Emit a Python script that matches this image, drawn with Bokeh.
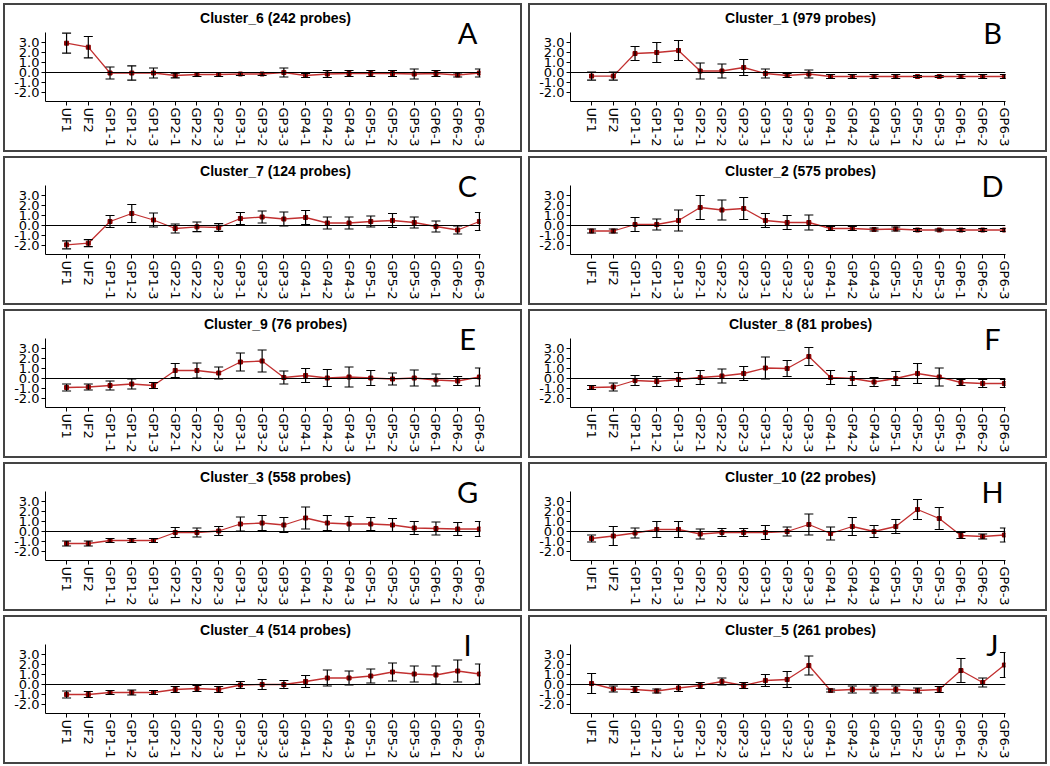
import math
from bokeh.plotting import figure
from bokeh.models import (Span, Label, Whisker, TeeHead, ColumnDataSource,
                          FixedTicker, NumeralTickFormatter)
from bokeh.layouts import gridplot
from bokeh.embed import file_html
from bokeh.resources import INLINE

categories = ["UF1", "UF2", "GP1-1", "GP1-2", "GP1-3", "GP2-1", "GP2-2", "GP2-3",
              "GP3-1", "GP3-2", "GP3-3", "GP4-1", "GP4-2", "GP4-3", "GP5-1", "GP5-2",
              "GP5-3", "GP6-1", "GP6-2", "GP6-3"]
y_ticks = [-2.0, -1.0, 0.0, 1.0, 2.0, 3.0]

c6_mean = [2.93, 2.53, -0.05, -0.05, -0.05, -0.3, -0.2, -0.2, -0.15, -0.15, 0.0, -0.3, -0.15, -0.1, -0.1, -0.1, -0.15, -0.1, -0.25, -0.05]
c6_err = [1.0, 1.07, 0.6, 0.72, 0.5, 0.23, 0.2, 0.2, 0.15, 0.15, 0.45, 0.2, 0.35, 0.3, 0.3, 0.3, 0.5, 0.3, 0.2, 0.4]

c1_mean = [-0.36, -0.36, 1.9, 2.0, 2.2, 0.15, 0.15, 0.5, -0.1, -0.3, -0.15, -0.4, -0.4, -0.4, -0.4, -0.4, -0.4, -0.4, -0.4, -0.4]
c1_err = [0.4, 0.4, 0.7, 1.0, 1.0, 0.8, 0.7, 0.8, 0.45, 0.2, 0.4, 0.2, 0.2, 0.2, 0.2, 0.1, 0.1, 0.2, 0.2, 0.2]

c7_mean = [-1.93, -1.77, 0.4, 1.2, 0.55, -0.3, -0.13, -0.2, 0.7, 0.85, 0.65, 0.8, 0.25, 0.25, 0.4, 0.5, 0.3, -0.1, -0.45, 0.4]
c7_err = [0.4, 0.35, 0.6, 0.9, 0.7, 0.45, 0.48, 0.38, 0.6, 0.6, 0.7, 0.7, 0.6, 0.6, 0.55, 0.7, 0.55, 0.55, 0.4, 0.9]

c2_mean = [-0.55, -0.55, 0.1, 0.1, 0.5, 1.8, 1.55, 1.7, 0.5, 0.3, 0.3, -0.3, -0.3, -0.4, -0.35, -0.45, -0.45, -0.45, -0.45, -0.45]
c2_err = [0.2, 0.2, 0.7, 0.55, 1.05, 1.2, 1.0, 1.1, 0.7, 0.7, 0.75, 0.2, 0.2, 0.15, 0.2, 0.15, 0.1, 0.15, 0.15, 0.15]

c9_mean = [-0.9, -0.85, -0.7, -0.55, -0.7, 0.8, 0.8, 0.55, 1.65, 1.75, 0.1, 0.3, 0.05, 0.15, 0.05, -0.05, 0.05, -0.15, -0.25, 0.15]
c9_err = [0.35, 0.3, 0.45, 0.5, 0.3, 0.7, 0.75, 0.6, 0.9, 1.1, 0.65, 0.7, 0.85, 1.0, 0.75, 0.6, 0.8, 0.6, 0.45, 0.9]

c8_mean = [-0.9, -0.85, -0.2, -0.3, -0.1, 0.1, 0.25, 0.5, 1.05, 1.0, 2.2, 0.1, 0.0, -0.35, 0.0, 0.5, 0.15, -0.4, -0.5, -0.5]
c8_err = [0.2, 0.4, 0.5, 0.5, 0.7, 0.7, 0.7, 0.7, 1.1, 0.8, 0.9, 0.7, 0.7, 0.45, 0.7, 1.0, 0.9, 0.3, 0.4, 0.4]

c3_mean = [-1.2, -1.2, -0.9, -0.9, -0.9, -0.1, -0.1, 0.05, 0.75, 0.85, 0.65, 1.35, 0.85, 0.75, 0.75, 0.65, 0.35, 0.3, 0.25, 0.25]
c3_err = [0.25, 0.25, 0.2, 0.2, 0.2, 0.5, 0.45, 0.45, 0.7, 0.75, 0.75, 1.1, 0.75, 0.75, 0.65, 0.65, 0.65, 0.65, 0.65, 0.75]

c10_mean = [-0.7, -0.45, -0.15, 0.2, 0.2, -0.25, -0.1, -0.1, -0.1, 0.0, 0.7, -0.2, 0.5, 0.0, 0.5, 2.2, 1.3, -0.4, -0.5, -0.35]
c10_err = [0.35, 0.95, 0.5, 0.8, 0.8, 0.5, 0.4, 0.4, 0.7, 0.45, 1.05, 0.65, 0.9, 0.6, 0.7, 1.0, 1.1, 0.3, 0.25, 0.7]

c4_mean = [-1.0, -1.0, -0.8, -0.8, -0.8, -0.5, -0.4, -0.5, -0.05, 0.0, 0.0, 0.3, 0.65, 0.65, 0.85, 1.25, 1.05, 0.95, 1.35, 1.05]
c4_err = [0.35, 0.3, 0.2, 0.25, 0.2, 0.3, 0.3, 0.3, 0.35, 0.5, 0.4, 0.6, 0.8, 0.7, 0.7, 0.9, 0.8, 0.9, 1.1, 1.0]

c5_mean = [0.1, -0.45, -0.5, -0.65, -0.35, -0.1, 0.3, -0.1, 0.4, 0.5, 1.9, -0.6, -0.5, -0.5, -0.5, -0.6, -0.5, 1.4, 0.2, 1.95]
c5_err = [1.0, 0.3, 0.3, 0.2, 0.35, 0.3, 0.35, 0.3, 0.6, 0.8, 0.95, 0.15, 0.35, 0.35, 0.35, 0.25, 0.3, 1.2, 0.45, 1.25]

titles = ["Cluster_6 (242 probes)", "Cluster_1 (979 probes)",
          "Cluster_7 (124 probes)", "Cluster_2 (575 probes)",
          "Cluster_9 (76 probes)", "Cluster_8 (81 probes)",
          "Cluster_3 (558 probes)", "Cluster_10 (22 probes)",
          "Cluster_4 (514 probes)", "Cluster_5 (261 probes)"]
letters = ["A", "B", "C", "D", "E", "F", "G", "H", "I", "J"]
means = [c6_mean, c1_mean, c7_mean, c2_mean, c9_mean, c8_mean, c3_mean, c10_mean, c4_mean, c5_mean]
errs = [c6_err, c1_err, c7_err, c2_err, c9_err, c8_err, c3_err, c10_err, c4_err, c5_err]

W, H = 519, 149
LINE_RED = "#C23030"


def make_panel(title, letter, mean, err):
    xs = list(range(len(categories)))
    src = ColumnDataSource(dict(
        x=xs, y=mean,
        upper=[m + e for m, e in zip(mean, err)],
        lower=[m - e for m, e in zip(mean, err)],
    ))
    # the frame reaches almost to the top so the title and letter are not clipped;
    # the y axis line itself is bounded to the visible data band
    p = figure(width=W, height=H, output_backend="svg", toolbar_location=None,
               x_range=(-0.97, 19.05), y_range=(-2.9, 6.5),
               min_border_left=40, min_border_right=44,
               min_border_top=2, min_border_bottom=53,
               background_fill_color="white", border_fill_color="white")
    p.outline_line_color = None
    p.xgrid.visible = False
    p.ygrid.visible = False
    p.styles = {"border": "2px solid #444444"}

    # axes
    p.xaxis.ticker = FixedTicker(ticks=xs)
    p.xaxis.major_label_overrides = {i: c for i, c in enumerate(categories)}
    p.xaxis.major_label_orientation = -math.pi / 2
    p.yaxis.ticker = FixedTicker(ticks=y_ticks)
    p.yaxis.formatter = NumeralTickFormatter(format="0.0")
    p.yaxis.bounds = (-2.9, 4.0)
    for ax in (p.xaxis, p.yaxis):
        ax.axis_line_color = "black"
        ax.axis_line_width = 1
        ax.major_tick_line_color = "black"
        ax.major_tick_in = 0
        ax.major_tick_out = 4
        ax.minor_tick_line_color = None
        ax.major_label_text_font = "DejaVu Sans"
        ax.major_label_text_font_size = "13px"
        ax.major_label_text_color = "black"
        ax.major_label_standoff = 2

    p.add_layout(Span(location=0, dimension="width", line_color="black", line_width=1))

    p.line("x", "y", source=src, line_color=LINE_RED, line_width=1.3)
    wh = Whisker(source=src, base="x", upper="upper", lower="lower",
                 line_color="black", line_width=1.2,
                 upper_head=TeeHead(size=9, line_color="black", line_width=1.2),
                 lower_head=TeeHead(size=9, line_color="black", line_width=1.2))
    wh.level = "glyph"
    p.add_layout(wh)
    p.scatter("x", "y", source=src, marker="square", size=4,
              fill_color="#8B0000", line_color="#8B0000")

    # screen units are relative to the plot frame (origin bottom-left)
    p.add_layout(Label(x=230, y=84, x_units="screen", y_units="screen",
                       text=title, text_align="center", text_baseline="middle",
                       text_font="Liberation Sans", text_font_style="bold",
                       text_font_size="14px", text_color="black"))
    p.add_layout(Label(x=422, y=69, x_units="screen", y_units="screen",
                       text=letter, text_align="center", text_baseline="middle",
                       text_font="Lato", text_font_size="29px",
                       text_color="black"))
    return p


figs = [make_panel(t, l, m, e) for t, l, m, e in zip(titles, letters, means, errs)]
rows = [figs[i:i + 2] for i in range(0, len(figs), 2)]
grid = gridplot(rows, toolbar_location=None)
grid.spacing = (4, 6)
grid.styles = {"margin-left": "3px", "margin-top": "3px"}

open("out.html", "w").write(file_html(grid, INLINE))
